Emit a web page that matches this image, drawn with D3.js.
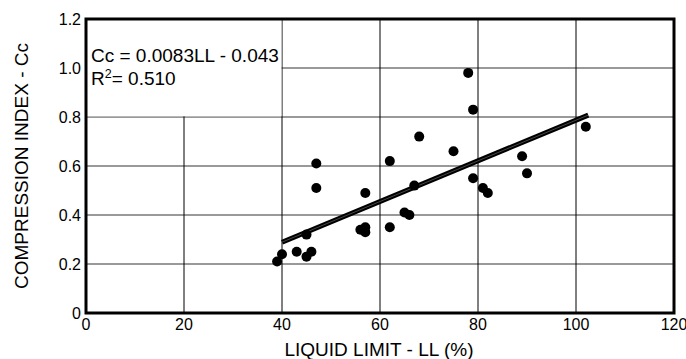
<!DOCTYPE html>
<html>
<head>
<meta charset="utf-8">
<script src="https://cdn.jsdelivr.net/npm/d3@7"></script>
<style>
  html, body { margin: 0; padding: 0; background: #fff; }
  svg text { font-family: "Liberation Sans", Arial, sans-serif; fill: #000; }
</style>
</head>
<body>
<div id="chart"></div>
<script>
// measured liquid limit (LL %) vs compression index (Cc)
const llValues = [39, 40, 43, 45, 46, 45, 47, 47, 56, 57, 57, 57, 62, 62, 65, 66, 67, 68, 75, 78, 79, 79, 81, 82, 89, 90, 102];
const ccValues = [0.21, 0.24, 0.25, 0.23, 0.25, 0.32, 0.51, 0.61, 0.34, 0.35, 0.33, 0.49, 0.35, 0.62, 0.41, 0.40, 0.52, 0.72, 0.66, 0.98, 0.83, 0.55, 0.51, 0.49, 0.64, 0.57, 0.76];

// regression Cc = 0.0083LL - 0.043
const fitSlope = 0.0083;
const fitIntercept = -0.043;
const fitRange = [40, 102.5];

const xTicks = [0, 20, 40, 60, 80, 100, 120];
const yTicks = [0, 0.2, 0.4, 0.6, 0.8, 1.0, 1.2];
const yTickLabels = ['0', '0.2', '0.4', '0.6', '0.8', '1.0', '1.2'];

const W = 686, H = 359;
const margin = { top: 19, right: 12, bottom: 46, left: 86 };
const width = W - margin.left - margin.right;
const height = H - margin.top - margin.bottom;

const svg = d3.select('#chart').append('svg')
  .attr('width', W).attr('height', H);
const g = svg.append('g').attr('transform', `translate(${margin.left},${margin.top})`);

const x = d3.scaleLinear().domain([0, 120]).range([0, width]);
const y = d3.scaleLinear().domain([0, 1.2]).range([height, 0]);

// grid
g.append('g').selectAll('line').data(yTicks.slice(1, -1)).join('line')
  .attr('x1', 0).attr('x2', width)
  .attr('y1', d => y(d)).attr('y2', d => y(d))
  .attr('stroke', '#777').attr('stroke-width', 1.3);
g.append('g').selectAll('line').data(xTicks.slice(1, -1)).join('line')
  .attr('x1', d => x(d)).attr('x2', d => x(d))
  .attr('y1', 0).attr('y2', height)
  .attr('stroke', '#000').attr('stroke-width', 1);

// white box behind the equation
g.append('rect')
  .attr('x', x(0)).attr('y', y(1.2))
  .attr('width', x(40) - x(0) - 0.5).attr('height', y(0.8) - y(1.2) - 0.7)
  .attr('fill', '#fff');

// fit line
const fitLine = d3.line().x(d => x(d)).y(d => y(fitSlope * d + fitIntercept));
g.append('path').datum(fitRange)
  .attr('d', fitLine).attr('fill', 'none')
  .attr('stroke', '#000').attr('stroke-width', 5);
g.append('path').datum(fitRange)
  .attr('d', fitLine).attr('fill', 'none')
  .attr('stroke', '#666').attr('stroke-width', 0.7);

// points
g.append('g').selectAll('circle').data(llValues).join('circle')
  .attr('cx', d => x(d))
  .attr('cy', (d, i) => y(ccValues[i]))
  .attr('r', 5)
  .attr('fill', '#000');

// frame
g.append('rect')
  .attr('x', 0).attr('y', 0).attr('width', width).attr('height', height)
  .attr('fill', 'none').attr('stroke', '#000').attr('stroke-width', 3);

// tick labels
g.append('g').selectAll('text').data(xTicks).join('text')
  .attr('x', d => x(d)).attr('y', height + 16.5)
  .attr('text-anchor', 'middle')
  .style('font-size', '16px')
  .text(d => d);
g.append('g').selectAll('text').data(yTicks).join('text')
  .attr('x', -5).attr('y', d => y(d) + 5.5)
  .attr('text-anchor', 'end')
  .style('font-size', '16px')
  .text((d, i) => yTickLabels[i]);

// axis titles
svg.append('text')
  .attr('x', margin.left + x(60) - 1).attr('y', 356)
  .attr('text-anchor', 'middle')
  .style('font-size', '19px')
  .text('LIQUID LIMIT - LL (%)');
svg.append('text')
  .attr('transform', `translate(28,${margin.top + height / 2}) rotate(-90)`)
  .attr('text-anchor', 'middle')
  .style('font-size', '19px')
  .text('COMPRESSION INDEX - Cc');

// equation
const eq = g.append('text').style('font-size', '19px');
eq.append('tspan').attr('x', 5).attr('y', 43).text('Cc = 0.0083LL - 0.043');
const r2 = g.append('text').attr('x', 5).attr('y', 66).style('font-size', '19px');
r2.append('tspan').text('R');
r2.append('tspan').attr('dy', -7.5).style('font-size', '12.5px').text('2');
r2.append('tspan').attr('dy', 7.5).text('= 0.510');
</script>
</body>
</html>
